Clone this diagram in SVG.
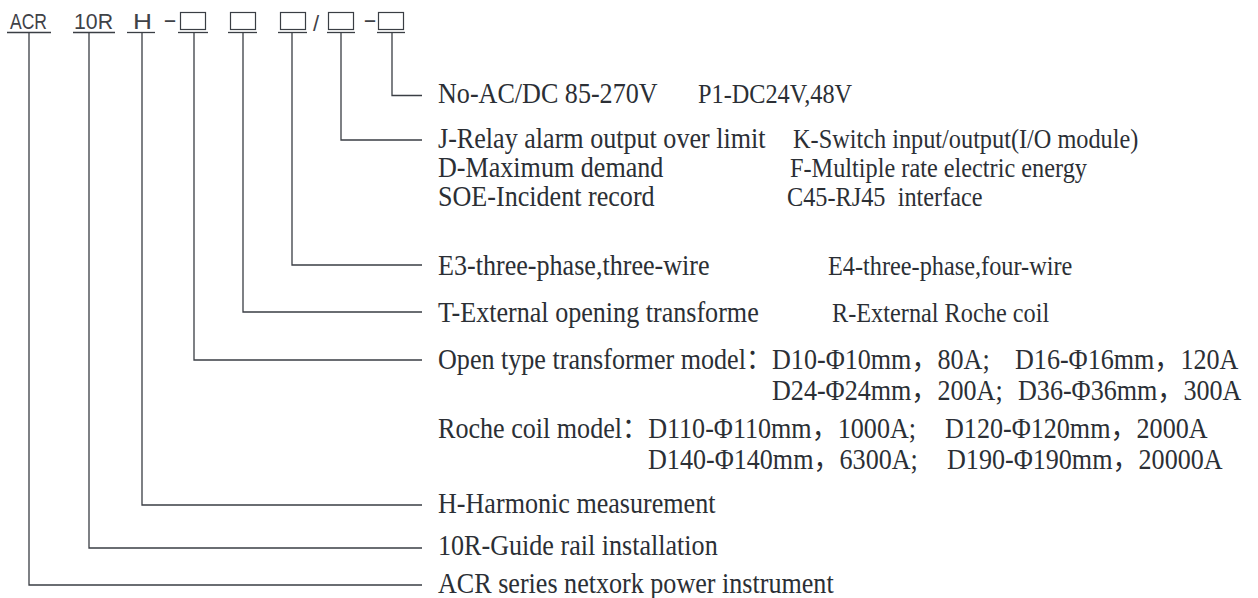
<svg xmlns="http://www.w3.org/2000/svg" width="1258" height="598" viewBox="0 0 1258 598">
<style>
.t{font-family:"Liberation Serif","Noto Sans CJK SC",serif;font-size:29px;fill:#2b2f35;white-space:pre}
.s{font-size:27px}
.h{font-family:"Liberation Sans","DejaVu Sans",sans-serif;font-size:22px;fill:#3f4247}
.ln{fill:none;stroke:#3a3e44;stroke-width:1.3}
.bx{fill:none;stroke:#3a3e44;stroke-width:1.2}
</style>
<rect width="1258" height="598" fill="#ffffff"/>
<g id="code">
  <g id="tok-acr"><text class="h" x="10" y="29" textLength="37" lengthAdjust="spacingAndGlyphs">ACR</text><line class="ln" x1="7" y1="32.5" x2="51" y2="32.5"/></g>
  <g id="tok-10r"><text class="h" x="74" y="29" textLength="39" lengthAdjust="spacingAndGlyphs">10R</text><line class="ln" x1="73" y1="32.5" x2="115" y2="32.5"/></g>
  <g id="tok-h"><text class="h" x="133" y="29" textLength="19" lengthAdjust="spacingAndGlyphs">H</text><line class="ln" x1="127" y1="32.5" x2="155" y2="32.5"/></g>
  <text class="h" x="163" y="27" textLength="14" lengthAdjust="spacingAndGlyphs">-</text>
  <g id="tok-b1"><rect class="bx" x="180.5" y="12.5" width="25" height="17"/><line class="ln" x1="178" y1="32.5" x2="208" y2="32.5"/></g>
  <g id="tok-b2"><rect class="bx" x="230.5" y="12.5" width="25" height="17"/><line class="ln" x1="228" y1="32.5" x2="257" y2="32.5"/></g>
  <g id="tok-b3"><rect class="bx" x="280.5" y="12.5" width="25" height="17"/><line class="ln" x1="278" y1="32.5" x2="307" y2="32.5"/></g>
  <text class="h" x="313" y="31" font-size="24">/</text>
  <g id="tok-b4"><rect class="bx" x="328.5" y="12.5" width="25" height="17"/><line class="ln" x1="327" y1="32.5" x2="355" y2="32.5"/></g>
  <text class="h" x="363" y="27" textLength="14" lengthAdjust="spacingAndGlyphs">-</text>
  <g id="tok-b5"><rect class="bx" x="378.5" y="12.5" width="25" height="17"/><line class="ln" x1="377" y1="32.5" x2="405" y2="32.5"/></g>
</g>
<g id="connectors">
  <path class="ln" d="M29 33 V585 H422"/>
  <path class="ln" d="M89 33 V548 H422"/>
  <path class="ln" d="M142 33 V505 H422"/>
  <path class="ln" d="M194 33 V360 H422"/>
  <path class="ln" d="M243 33 V312 H422"/>
  <path class="ln" d="M292 33 V265 H422"/>
  <path class="ln" d="M341 33 V140 H422"/>
  <path class="ln" d="M392 33 V95.5 H422"/>
</g>
<g id="power">
  <text class="t" transform="translate(438 103) scale(0.9 1)">No-AC/DC 85-270V</text>
  <text class="t s" transform="translate(698 103) scale(0.9 1)">P1-DC24V,48V</text>
</g>
<g id="functions">
  <text class="t" transform="translate(438 148) scale(0.9 1)">J-Relay alarm output over limit</text>
  <text class="t s" transform="translate(793 148) scale(0.9 1)">K-Switch input/output(I/O module)</text>
  <text class="t" transform="translate(438 177) scale(0.9 1)">D-Maximum demand</text>
  <text class="t s" transform="translate(790 177) scale(0.9 1)">F-Multiple rate electric energy</text>
  <text class="t" transform="translate(438 206) scale(0.9 1)">SOE-Incident record</text>
  <text class="t s" transform="translate(787 206) scale(0.9 1)">C45-RJ45  interface</text>
</g>
<g id="wiring">
  <text class="t" transform="translate(438 275) scale(0.9 1)">E3-three-phase,three-wire</text>
  <text class="t s" transform="translate(828 275) scale(0.9 1)">E4-three-phase,four-wire</text>
</g>
<g id="input">
  <text class="t" transform="translate(438 322) scale(0.9 1)">T-External opening transforme</text>
  <text class="t s" transform="translate(832 322) scale(0.9 1)">R-External Roche coil</text>
</g>
<g id="models">
  <text class="t" transform="translate(438 369) scale(0.9 1)">Open type transformer model：D10-Φ10mm，80A;</text>
  <text class="t" transform="translate(1015 369) scale(0.9 1)">D16-Φ16mm，120A</text>
  <text class="t" transform="translate(772 400) scale(0.9 1)">D24-Φ24mm，200A;</text>
  <text class="t" transform="translate(1018 400) scale(0.9 1)">D36-Φ36mm，300A</text>
  <text class="t" transform="translate(438 438) scale(0.9 1)">Roche coil model：D110-Φ110mm，1000A;</text>
  <text class="t" transform="translate(945 438) scale(0.9 1)">D120-Φ120mm，2000A</text>
  <text class="t" transform="translate(648 469) scale(0.9 1)">D140-Φ140mm，6300A;</text>
  <text class="t" transform="translate(947 469) scale(0.9 1)">D190-Φ190mm，20000A</text>
</g>
<g id="harmonic">
  <text class="t" transform="translate(438 513) scale(0.9 1)">H-Harmonic measurement</text>
</g>
<g id="mounting">
  <text class="t" transform="translate(438 555) scale(0.9 1)">10R-Guide rail installation</text>
</g>
<g id="series">
  <text class="t" transform="translate(438 593) scale(0.9 1)">ACR series netxork power instrument</text>
</g>
</svg>
